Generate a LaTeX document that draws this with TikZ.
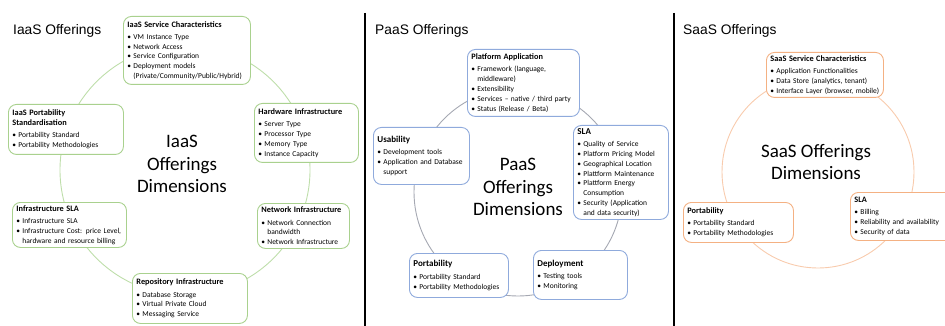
\documentclass[tikz,border=0pt]{standalone}
\usepackage{fontspec}
\setmainfont{Carlito}
\newfontfamily\headfont{Liberation Sans}
\usetikzlibrary{positioning}
\definecolor{igreen}{RGB}{169,209,142}
\definecolor{igreenring}{RGB}{190,222,170}
\definecolor{pblue}{RGB}{143,170,220}
\definecolor{pgreyring}{RGB}{165,168,178}
\definecolor{sorange}{RGB}{244,177,131}
\definecolor{sorangering}{RGB}{248,203,173}
\newcommand{\boxtitle}[2][8.3]{{\fontsize{#1}{10}\selectfont\bfseries #2\par}\vspace{2.5pt}}
\newcommand{\itm}[1]{\noindent\hangindent=6pt\hangafter=1\makebox[6pt][l]{\textbullet}#1\par}

\begin{document}
\begin{tikzpicture}[x=1pt,y=-1pt,
    ibox/.style={draw=igreen,fill=white,line width=0.9pt,rounded corners=8pt,anchor=north west,
      align=left,inner xsep=4pt,inner ysep=2pt,font=\fontsize{7.5}{9.8}\selectfont},
    pbox/.style={ibox,draw=pblue},
    sbox/.style={ibox,draw=sorange},
    ring/.style={circle,draw=#1,line width=0.9pt,inner sep=0pt},
    dimtext/.style={align=center,font=\fontsize{19}{22.5}\selectfont},
    heading/.style={anchor=base west,inner sep=0pt,font=\headfont\fontsize{13.8}{16}\selectfont},
    divider/.style={line width=1.6pt}]
  \useasboundingbox (0,0) rectangle (945,326);

  \coordinate (d1top) at (365,13);
  \coordinate (d1bot) at (365,326);
  \coordinate (d2top) at (674,13);
  \coordinate (d2bot) at (674,326);
  \draw[divider] (d1top) -- (d1bot);
  \draw[divider] (d2top) -- (d2bot);

  \node[heading] (ihead) at (13,35) {IaaS Offerings};
  \node[heading] (phead) at (375,35) {PaaS Offerings};
  \node[heading] (shead) at (683,35) {SaaS Offerings};

  \node[ring=igreenring,minimum size=250pt] (iring) at (185,170) {};
  \node[ring=pgreyring,minimum size=208pt] (pring) at (518,192) {};
  \node[ring=sorangering,minimum size=192pt] (sring) at (818,172) {};

  \node[dimtext] (idim) at (182,164) {IaaS\\Offerings\\Dimensions};
  \node[dimtext] (pdim) at (518,187) {PaaS\\Offerings\\Dimensions};
  \node[dimtext] (sdim) at (816,162) {SaaS Offerings\\Dimensions};

  \node[ibox,text width=119pt,minimum height=68pt] (ichar) at (123,16)
    {\boxtitle{IaaS Service Characteristics}\itm{VM Instance Type}\itm{Network Access}\itm{Service Configuration}\itm{Deployment models\newline(Private/Community/Public/Hybrid)}};
  \node[ibox,text width=107pt,minimum height=50pt] (iport) at (8,104)
    {\boxtitle{IaaS Portability\newline Standardisation}\itm{Portability Standard}\itm{Portability Methodologies}};
  \node[ibox,text width=96pt,minimum height=59pt] (ihw) at (254,103)
    {\boxtitle{Hardware Infrastructure}\itm{Server Type}\itm{Processor Type}\itm{Memory Type}\itm{Instance Capacity}};
  \node[ibox,text width=84pt,minimum height=45pt] (inet) at (257,203)
    {\boxtitle{Network Infrastructure}\itm{Network Connection\newline bandwidth}\itm{Network Infrastructure}};
  \node[ibox,text width=107pt,minimum height=50pt] (irepo) at (132,273)
    {\boxtitle{Repository Infrastructure}\itm{Database Storage}\itm{Virtual Private Cloud}\itm{Messaging Service}};
  \node[ibox,text width=106pt,minimum height=45pt] (isla) at (12,202)
    {\boxtitle{Infrastructure SLA}\itm{Infrastructure SLA}\itm{\mbox{Infrastructure Cost: price Level,}\newline hardware and resource billing}};

  \node[pbox,text width=104pt,minimum height=67pt] (papp) at (467,49)
    {\boxtitle{Platform Application}\itm{Framework (language,\newline middleware)}\itm{Extensibility}\itm{Services -- native / third party}\itm{Status (Release / Beta)}};
  \node[pbox,text width=88pt,minimum height=57pt] (pusa) at (373,127)
    {\boxtitle[9]{Usability}\itm{Development tools}\itm{Application and Database\newline support}};
  \node[pbox,text width=87pt,minimum height=94pt] (psla) at (573,125)
    {\boxtitle[9]{SLA}\itm{Quality of Service}\itm{Platform Pricing Model}\itm{Geographical Location}\itm{Plattform Maintenance}\itm{Plattform Energy\newline Consumption}\itm{Security (Application\newline and data security)}};
  \node[pbox,text width=91pt,minimum height=44pt] (pport) at (409,253)
    {\boxtitle[9]{Portability}\itm{Portability Standard}\itm{Portability Methodologies}};
  \node[pbox,text width=86pt,minimum height=49pt] (pdep) at (533,250)
    {\boxtitle[9]{Deployment}\itm{Testing tools}\itm{Monitoring}};

  \node[sbox,text width=109pt,minimum height=45pt] (schar) at (766,52)
    {\boxtitle{SaaS Service Characteristics}\itm{Application Functionalities}\itm{Data Store (analytics, tenant)}\itm{Interface Layer (browser, mobile)}};
  \node[sbox,text width=102pt,minimum height=40pt] (sport) at (683,202)
    {\boxtitle{Portability}\itm{Portability Standard}\itm{Portability Methodologies}};
  \node[sbox,text width=97pt,minimum height=48pt] (ssla) at (850,192)
    {\boxtitle{SLA}\itm{Billing}\itm{Reliability and availability}\itm{Security of data}};
\end{tikzpicture}
\end{document}
